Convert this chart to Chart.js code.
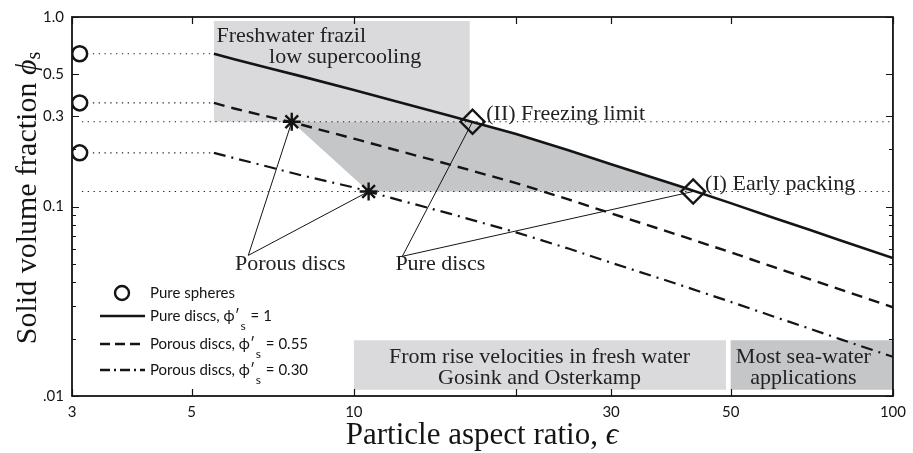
<!DOCTYPE html>
<html>
<head>
<meta charset="utf-8">
<script src="https://cdn.jsdelivr.net/npm/chart.js@4.4.1/dist/chart.umd.min.js"></script>
<style>
  html, body { margin: 0; padding: 0; background: #fff; }
  #wrap { width: 913px; height: 453px; }
</style>
</head>
<body>
<div id="wrap"><canvas id="packingChart"></canvas></div>
<script>
// Curves (aspect ratio -> solid volume fraction)
const aspectRatios = [5.5, 6, 7, 8, 10, 12, 15, 20, 25, 30, 40, 50, 60, 70, 80, 100];
const pureDiscs = [0.64, 0.598, 0.535, 0.486, 0.412, 0.358, 0.302, 0.241, 0.198, 0.167, 0.1285, 0.1042, 0.0873, 0.0753, 0.0662, 0.0534];
const porousDiscs55 = [0.352, 0.329, 0.296, 0.270, 0.228, 0.198, 0.167, 0.133, 0.109, 0.092, 0.0707, 0.0573, 0.048, 0.0414, 0.0364, 0.0294];
const porousDiscs30 = [0.192, 0.180, 0.161, 0.146, 0.126, 0.109, 0.092, 0.073, 0.060, 0.0505, 0.0388, 0.0314, 0.0263, 0.0227, 0.0199, 0.0161];

// Spheres sit at the left edge
const sphereAspect = 3.1;
const pureSpheres = [0.64, 0.352, 0.192];
const sphereGuideStart = 3.28;

// Horizontal limits
const freezingLimit = 0.28;
const earlyPacking = 0.12;
const limitLineStart = 3.13;

// Marked intersections
const pureDiscMarks = [{ x: 16.6, y: 0.28 }, { x: 42.6, y: 0.12 }];
const porousDiscMarks = [{ x: 7.67, y: 0.28 }, { x: 10.65, y: 0.12 }];

// Shaded regions (x range, y range)
const frazilRegion = { x: [5.5, 16.4], y: [0.28, 0.953] };
const riseRegion = { x: [10, 49], y: [0.0108, 0.0197] };
const seaRegion = { x: [50, 99.7], y: [0.0108, 0.0197] };

// Leader line origins (under the labels)
const porousLabelRoot = { x: 6.37, y: 0.0552 };
const pureLabelRoot = { x: 12.3, y: 0.0546 };

// Axes
const xTicks = [3, 5, 10, 20, 30, 50, 100];
const xTickLabels = ['3', '5', '10', '', '30', '50', '100'];
const yTicks = [0.01, 0.02, 0.03, 0.04, 0.05, 0.06, 0.07, 0.08, 0.09, 0.1, 0.2, 0.3, 0.5, 1];
const yTickLabels = ['.01', '', '', '', '', '', '', '', '', '0.1', '', '0.3', '0.5', '1.0'];

const SERIF = '"Liberation Serif", "Times New Roman", serif';
const SANS = 'Lato, "Open Sans", sans-serif';
const INK = '#141414';

function pts(xs, ys) {
    return xs.map((x, i) => ({ x: x, y: ys[i] }));
}

function rect(r) {
    return [
        { x: r.x[0], y: r.y[0] }, { x: r.x[1], y: r.y[0] },
        { x: r.x[1], y: r.y[1] }, { x: r.x[0], y: r.y[1] }, { x: r.x[0], y: r.y[0] }
    ];
}

function line(data, opts) {
    return Object.assign({
        data: data, showLine: true, fill: false, tension: 0,
        pointRadius: 0, pointHoverRadius: 0,
        borderColor: INK, borderWidth: 1
    }, opts || {});
}

function area(data, color) {
    return line(data, { fill: 'shape', backgroundColor: color, borderColor: 'rgba(0,0,0,0)' });
}

// packing window: between the two limits, left of the pure disc curve
const pureCurve = pts(aspectRatios, pureDiscs);
const windowShape = [porousDiscMarks[0], pureDiscMarks[0]]
    .concat(pureCurve.filter(p => p.x > pureDiscMarks[0].x && p.x < pureDiscMarks[1].x))
    .concat([pureDiscMarks[1], porousDiscMarks[1], porousDiscMarks[0]]);

const dotted = [1.3, 4.5];

const datasets = [
    line(pureSpheres.map(v => ({ x: sphereAspect, y: v })), {
        showLine: false, pointStyle: 'circle', pointRadius: 7.5, borderWidth: 2.5,
        pointBackgroundColor: 'rgba(0,0,0,0)'
    }),
    line(pureDiscMarks, {
        showLine: false, pointStyle: 'rectRot', pointRadius: 12, borderWidth: 2.4,
        pointBackgroundColor: 'rgba(0,0,0,0)'
    }),
    line(porousDiscMarks, {
        showLine: false, pointStyle: 'star', pointRadius: 9, borderWidth: 2.4
    }),
    line(pureCurve, { borderWidth: 2.6 }),
    line(pts(aspectRatios, porousDiscs55), { borderWidth: 2.4, borderDash: [11, 7] }),
    line(pts(aspectRatios, porousDiscs30), { borderWidth: 2.2, borderDash: [12, 6, 2, 6] }),
    line([porousLabelRoot, porousDiscMarks[0]]),
    line([porousLabelRoot, porousDiscMarks[1]]),
    line([pureLabelRoot, pureDiscMarks[0]]),
    line([pureLabelRoot, pureDiscMarks[1]])
];
pureSpheres.forEach(v => {
    datasets.push(line([{ x: sphereGuideStart, y: v }, { x: aspectRatios[0], y: v }], { borderDash: dotted, borderColor: '#222', borderWidth: 1.2 }));
});
[freezingLimit, earlyPacking].forEach(v => {
    datasets.push(line([{ x: limitLineStart, y: v }, { x: 100, y: v }], { borderDash: dotted, borderColor: '#222', borderWidth: 1.2 }));
});
datasets.push(area(windowShape, '#c5c6c8'));
datasets.push(area(rect(frazilRegion), '#dadadc'));
datasets.push(area(rect(riseRegion), '#dadadc'));
datasets.push(area(rect(seaRegion), '#c5c6c8'));

// Text annotations in data coordinates
const notes = [
    { text: 'Freshwater frazil', x: 5.56, y: 0.739, align: 'left' },
    { text: 'low supercooling', x: 6.96, y: 0.573, align: 'left' },
    { text: '(II) Freezing limit', x: 17.6, y: 0.287, align: 'left' },
    { text: '(I) Early packing', x: 44.8, y: 0.1229, align: 'left' },
    { text: 'Porous discs', x: 6.02, y: 0.046, align: 'left' },
    { text: 'Pure discs', x: 11.94, y: 0.046, align: 'left' },
    { text: 'From rise velocities in fresh water', x: 22.1, y: 0.01492, align: 'center' },
    { text: 'Gosink and Osterkamp', x: 22.1, y: 0.01157, align: 'center' },
    { text: 'Most sea-water', x: 68.2, y: 0.01492, align: 'center' },
    { text: 'applications', x: 68.2, y: 0.01157, align: 'center' }
];

const legendRows = [
    { kind: 'circle', label: 'Pure spheres', y: 293 },
    { kind: [], label: 'Pure discs, \u03D5\u2032', value: ' = 1', y: 316 },
    { kind: [10, 5], label: 'Porous discs, \u03D5\u2032', value: ' = 0.55', y: 344 },
    { kind: [10, 4, 2, 4], label: 'Porous discs, \u03D5\u2032', value: ' = 0.30', y: 370 }
];

const decorations = {
    id: 'decorations',
    afterDatasetsDraw(chart) {
        const ctx = chart.ctx;
        const xs = chart.scales.x, ys = chart.scales.y, a = chart.chartArea;
        ctx.save();
        ctx.fillStyle = '#222';
        ctx.font = '22px ' + SERIF;
        ctx.textBaseline = 'alphabetic';
        notes.forEach(n => {
            ctx.textAlign = n.align;
            ctx.fillText(n.text, xs.getPixelForValue(n.x), ys.getPixelForValue(n.y));
        });

        // inward ticks on all four sides
        ctx.strokeStyle = INK;
        ctx.lineWidth = 1.2;
        ctx.beginPath();
        xTicks.forEach(v => {
            const px = Math.round(xs.getPixelForValue(v)) + 0.5;
            ctx.moveTo(px, a.bottom); ctx.lineTo(px, a.bottom - 7);
            ctx.moveTo(px, a.top); ctx.lineTo(px, a.top + 7);
        });
        yTicks.forEach((v, i) => {
            const py = Math.round(ys.getPixelForValue(v)) + 0.5;
            const len = yTickLabels[i] ? 7 : 4;
            ctx.moveTo(a.left, py); ctx.lineTo(a.left + len, py);
            ctx.moveTo(a.right, py); ctx.lineTo(a.right - len, py);
        });
        ctx.stroke();
        ctx.lineWidth = 1.8;
        ctx.strokeRect(a.left, a.top, a.right - a.left, a.bottom - a.top);

        // x title
        ctx.fillStyle = INK;
        ctx.textAlign = 'left';
        ctx.font = '31px ' + SERIF;
        const xMain = 'Particle aspect ratio, ';
        const w1 = ctx.measureText(xMain).width;
        ctx.font = 'italic 31px ' + SERIF;
        const w2 = ctx.measureText('\u03F5').width;
        let x0 = 482 - (w1 + w2) / 2;
        ctx.font = '31px ' + SERIF;
        ctx.fillText(xMain, x0, 444);
        ctx.font = 'italic 31px ' + SERIF;
        ctx.fillText('\u03F5', x0 + w1, 444);

        // y title, rotated
        ctx.save();
        ctx.translate(36, 198);
        ctx.rotate(-Math.PI / 2);
        ctx.font = '30px ' + SERIF;
        const yMain = 'Solid volume fraction ';
        const v1 = ctx.measureText(yMain).width;
        ctx.font = 'italic 30px ' + SERIF;
        const v2 = ctx.measureText('\u03D5').width;
        ctx.font = '20px ' + SERIF;
        const v3 = ctx.measureText('s').width;
        const y0 = -(v1 + v2 + v3) / 2;
        ctx.font = '30px ' + SERIF;
        ctx.fillText(yMain, y0, 0);
        ctx.font = 'italic 30px ' + SERIF;
        ctx.fillText('\u03D5', y0 + v1, 0);
        ctx.font = '20px ' + SERIF;
        ctx.fillText('s', y0 + v1 + v2, 4);
        ctx.restore();

        // legend
        ctx.textBaseline = 'middle';
        legendRows.forEach(r => {
            ctx.lineWidth = 2.4;
            ctx.strokeStyle = INK;
            if (r.kind === 'circle') {
                ctx.beginPath();
                ctx.arc(122, r.y, 7, 0, Math.PI * 2);
                ctx.stroke();
            } else {
                ctx.setLineDash(r.kind);
                ctx.beginPath();
                ctx.moveTo(100, r.y); ctx.lineTo(145, r.y);
                ctx.stroke();
                ctx.setLineDash([]);
            }
            ctx.font = '15px ' + SANS;
            ctx.fillText(r.label, 150, r.y);
            if (r.value) {
                const lw = ctx.measureText(r.label).width;
                ctx.font = '12px ' + SANS;
                ctx.fillText('s', 150 + lw + 1, r.y + 10);
                const sw = ctx.measureText('s').width;
                ctx.font = '15px ' + SANS;
                ctx.fillText(r.value, 150 + lw + sw + 2, r.y);
            }
        });
        ctx.restore();
    }
};

new Chart(document.getElementById('packingChart'), {
    type: 'line',
    data: { datasets: datasets },
    options: {
        responsive: true,
        maintainAspectRatio: false,
        animation: false,
        events: [],
        layout: { padding: { top: 15, right: 16, left: 0, bottom: 0 } },
        plugins: {
            legend: { display: false },
            tooltip: { enabled: false }
        },
        scales: {
            x: {
                type: 'logarithmic',
                min: 3,
                max: 100,
                grid: { display: false, drawTicks: false },
                border: { display: false },
                afterBuildTicks: s => { s.ticks = xTicks.map(v => ({ value: v })); },
                afterFit: s => { s.height = 57; },
                ticks: {
                    autoSkip: false,
                    maxRotation: 0,
                    padding: 7,
                    color: INK,
                    font: { family: SANS, size: 15 },
                    callback: (v, i) => xTickLabels[i]
                }
            },
            y: {
                type: 'logarithmic',
                min: 0.01,
                max: 1,
                grid: { display: false, drawTicks: false },
                border: { display: false },
                afterBuildTicks: s => { s.ticks = yTicks.map(v => ({ value: v })); },
                afterFit: s => { s.width = 72; },
                ticks: {
                    autoSkip: false,
                    padding: 8,
                    color: INK,
                    font: { family: SANS, size: 15 },
                    callback: (v, i) => yTickLabels[i]
                }
            }
        }
    },
    plugins: [decorations]
});
</script>
</body>
</html>
